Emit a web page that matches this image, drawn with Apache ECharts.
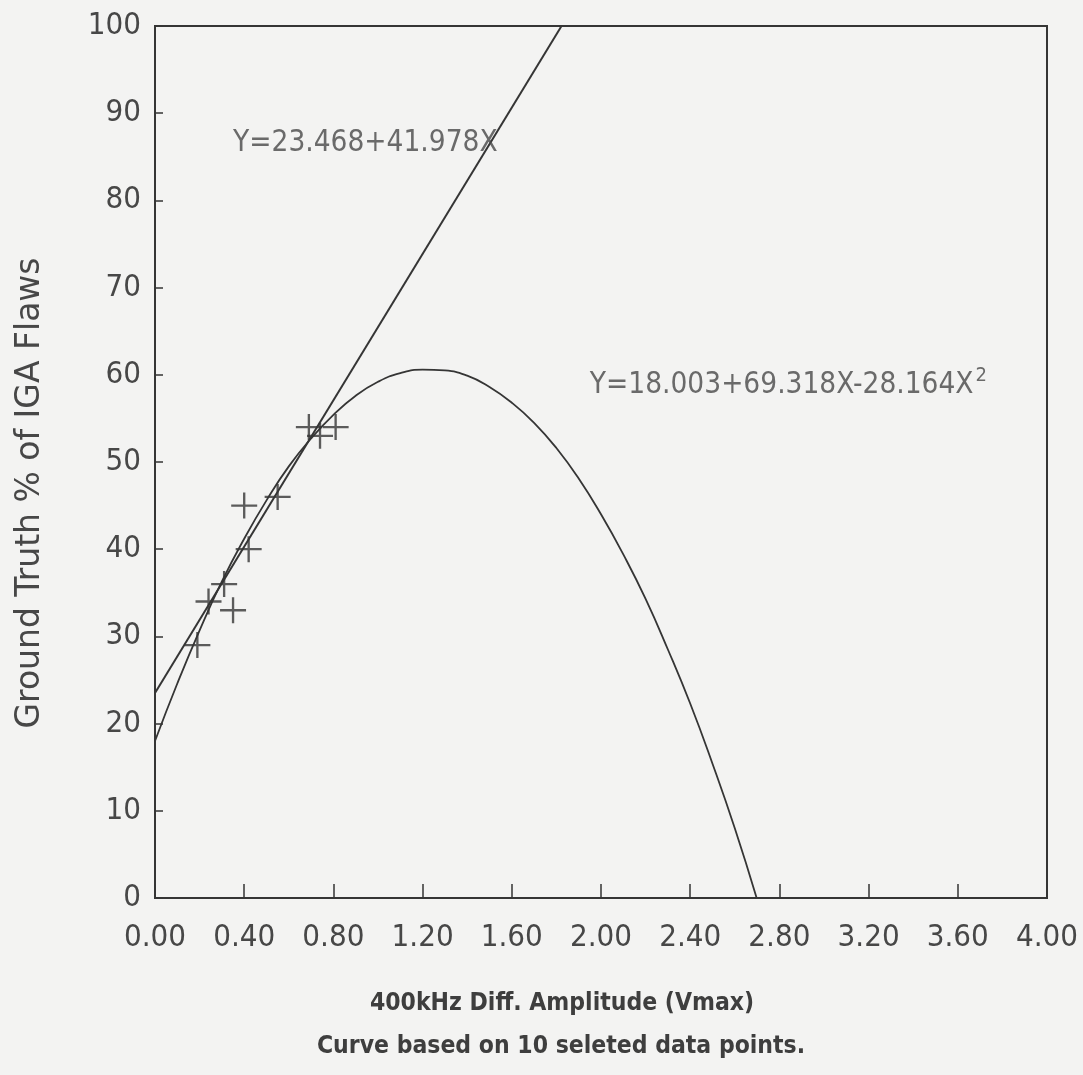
<!DOCTYPE html>
<html>
<head>
<meta charset="utf-8">
<script src="https://cdn.jsdelivr.net/npm/echarts@6/dist/echarts.min.js"></script>
<style>
html,body{margin:0;padding:0;background:#f3f3f2;}
#chart{width:1083px;height:1075px;}
</style>
</head>
<body>
<div id="chart"></div>
<script>
// Measured data points (X = 400kHz diff amplitude, Y = ground truth %)
var pointsX = [0.69, 0.74, 0.81, 0.55, 0.40, 0.42, 0.31, 0.24, 0.35, 0.19];
var pointsY = [54, 53, 54, 46, 45, 40, 36, 34, 33, 29];

// Linear fit line (start and where it leaves the top)
var lineX = [0, 1.823];
var lineY = [23.5, 100];

// Quadratic fit curve
var curveX = [0, 0.1, 0.2, 0.3, 0.4, 0.5, 0.6, 0.7, 0.8, 0.9, 1.0, 1.1, 1.2, 1.3, 1.4, 1.5, 1.6, 1.7, 1.8, 1.9, 2.0, 2.1, 2.2, 2.3, 2.4, 2.5, 2.6, 2.698];
var curveY = [18.0, 24.6, 30.7, 36.3, 41.2, 45.6, 49.5, 52.7, 55.4, 57.6, 59.2, 60.2, 60.6, 60.5, 59.9, 58.6, 56.8, 54.5, 51.6, 48.1, 44.0, 39.4, 34.3, 28.5, 22.3, 15.4, 8.0, 0.0];

// Annotations
var labelText = ['Y=23.468+41.978X', 'Y=18.003+69.318X-28.164X'];
var labelX = [0.35, 1.95];
var labelY = [86.6, 58.8];

var xTicks = ['0.00','0.40','0.80','1.20','1.60','2.00','2.40','2.80','3.20','3.60','4.00'];
var xTitle = '400kHz Diff. Amplitude (Vmax)';
var xSubtitle = 'Curve based on 10 seleted data points.';
var yTitle = 'Ground Truth % of IGA Flaws';

function zip(a, b) { return a.map(function (v, i) { return [v, b[i]]; }); }

var FONT = "'Liberation Sans Narrow', 'DejaVu Sans Condensed', 'Liberation Sans', sans-serif";
var BOLD = "'DejaVu Sans Condensed', 'DejaVu Sans', sans-serif";
var INK = '#353535';
var TXT = '#474747';

var chart = echarts.init(document.getElementById('chart'));
chart.setOption({
  backgroundColor: '#f3f3f2',
  animation: false,
  grid: { left: 155, right: 36, top: 26, bottom: 177, containLabel: false, outerBoundsMode: 'none',
    show: true, borderColor: INK, borderWidth: 2, backgroundColor: 'transparent' },
  xAxis: {
    type: 'value', min: 0, max: 4, interval: 0.4,
    axisLine: { show: true, lineStyle: { color: INK, width: 2 } },
    axisTick: { show: true, inside: true, length: 14, lineStyle: { color: INK, width: 1.5 } },
    splitLine: { show: false },
    axisLabel: { color: TXT, fontFamily: FONT, fontSize: 31, margin: 24,
      formatter: function (v) { var i = Math.round(v / 0.4); return xTicks[i]; } }
  },
  yAxis: {
    type: 'value', min: 0, max: 100, interval: 10,
    axisLine: { show: true, lineStyle: { color: INK, width: 2 } },
    axisTick: { show: true, inside: true, length: 8, lineStyle: { color: INK, width: 1.5 } },
    splitLine: { show: false },
    axisLabel: { color: TXT, fontFamily: FONT, fontSize: 31, margin: 14 }
  },
  graphic: [
    { type: 'text', style: { text: xTitle, x: 562, y: 1004, align: 'center', verticalAlign: 'middle',
      fill: '#3e3e3e', font: 'bold 24.5px ' + BOLD } },
    { type: 'text', style: { text: xSubtitle, x: 561, y: 1047, align: 'center', verticalAlign: 'middle',
      fill: '#3e3e3e', font: 'bold 24.5px ' + BOLD } },
    { type: 'text', x: 30, y: 493, rotation: Math.PI / 2,
      style: { text: yTitle, x: 0, y: 0, align: 'center', verticalAlign: 'middle',
      fill: TXT, font: "33px 'DejaVu Sans', sans-serif" } }
  ],
  series: [
    {
      type: 'line', data: zip(lineX, lineY), showSymbol: false, symbol: 'none',
      lineStyle: { color: INK, width: 2 }, z: 3
    },
    {
      type: 'line', data: zip(curveX, curveY), smooth: true, showSymbol: false, symbol: 'none',
      lineStyle: { color: INK, width: 1.8 }, z: 3
    },
    {
      type: 'scatter', data: zip(pointsX, pointsY),
      symbol: 'path://M-0.9,-10 L0.9,-10 L0.9,-0.9 L10,-0.9 L10,0.9 L0.9,0.9 L0.9,10 L-0.9,10 L-0.9,0.9 L-10,0.9 L-10,-0.9 L-0.9,-0.9 Z',
      symbolSize: 26, itemStyle: { color: INK }, z: 4
    },
    {
      type: 'scatter', data: zip(labelX, labelY), symbolSize: 0, silent: true, z: 5,
      label: {
        show: true, position: 'right', distance: 0,
        formatter: function (p) { return p.dataIndex === 1 ? labelText[1] + '{sup|2}' : labelText[0]; },
        color: TXT, fontFamily: FONT, fontSize: 29.5,
        rich: { sup: { fontFamily: FONT, fontSize: 20, color: TXT, verticalAlign: 'top', padding: [0, 0, 18, 2] } }
      }
    }
  ]
});
</script>
</body>
</html>
